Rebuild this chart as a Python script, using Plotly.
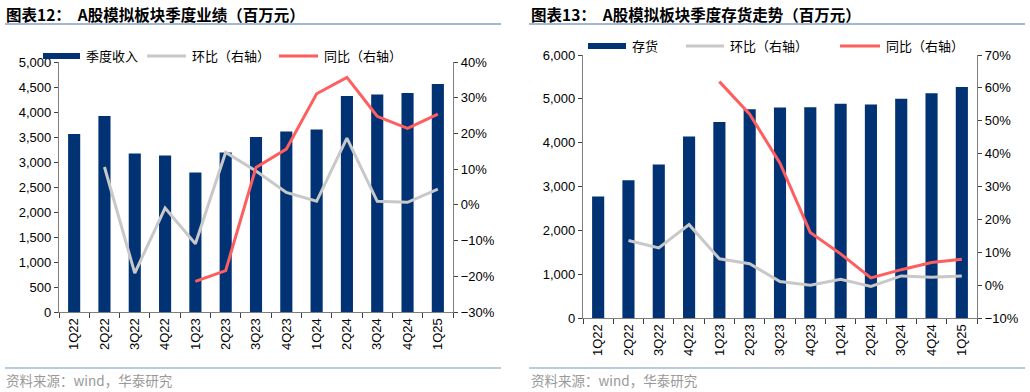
import plotly.graph_objects as go
from plotly.subplots import make_subplots

quarters = ["1Q22", "2Q22", "3Q22", "4Q22", "1Q23", "2Q23", "3Q23", "4Q23",
            "1Q24", "2Q24", "3Q24", "4Q24", "1Q25"]

# Chart 12: quarterly revenue (million yuan)
revenue = [3560, 3920, 3170, 3130, 2790, 3190, 3500, 3610, 3650, 4320, 4350, 4380, 4560]
rev_qoq = [None, 10.6, -19.1, -0.9, -10.9, 14.7, 9.5, 3.5, 1.0, 18.7, 1.0, 0.7, 4.4]
rev_yoy = [None, None, None, None, -21.4, -18.4, 10.5, 15.6, 31.1, 35.7, 24.8, 21.4, 25.4]

# Chart 13: quarterly inventory (million yuan)
inventory = [2770, 3140, 3500, 4140, 4470, 4760, 4800, 4810, 4890, 4870, 5000, 5130, 5270]
inv_qoq = [None, 13.6, 11.3, 18.4, 8.0, 6.5, 1.1, 0.0, 1.8, -0.4, 2.8, 2.4, 2.8]
inv_yoy = [None, None, None, None, 61.9, 52.0, 37.1, 16.0, 9.5, 2.2, 4.7, 6.9, 7.9]

title_left = "图表12：  A股模拟板块季度业绩（百万元）"
title_right = "图表13：  A股模拟板块季度存货走势（百万元）"
source_text = "资料来源：wind，华泰研究"

NAVY = "#003274"
GRAY = "#C8C8C8"
RED = "#FF5E5E"
AXIS = "#7F7F7F"
CJK = "Noto Sans CJK SC"
NUM = "Liberation Sans, Arial"

W, H = 1030, 392

fig = make_subplots(rows=1, cols=2, specs=[[{"secondary_y": True}, {"secondary_y": True}]])

fig.add_trace(go.Bar(x=quarters, y=revenue, marker_color=NAVY, marker_line_width=0,
                     showlegend=False), row=1, col=1, secondary_y=False)
fig.add_trace(go.Scatter(x=quarters, y=rev_qoq, mode="lines", line=dict(color=GRAY, width=3),
                         showlegend=False), row=1, col=1, secondary_y=True)
fig.add_trace(go.Scatter(x=quarters, y=rev_yoy, mode="lines", line=dict(color=RED, width=3),
                         showlegend=False), row=1, col=1, secondary_y=True)

fig.add_trace(go.Bar(x=quarters, y=inventory, marker_color=NAVY, marker_line_width=0,
                     showlegend=False), row=1, col=2, secondary_y=False)
fig.add_trace(go.Scatter(x=quarters, y=inv_qoq, mode="lines", line=dict(color=GRAY, width=3),
                         showlegend=False), row=1, col=2, secondary_y=True)
fig.add_trace(go.Scatter(x=quarters, y=inv_yoy, mode="lines", line=dict(color=RED, width=3),
                         showlegend=False), row=1, col=2, secondary_y=True)

def px_x(p):
    return p / W

def px_y(p):
    return 1 - p / H

xdom1 = [px_x(59), px_x(453)]
xdom2 = [px_x(583), px_x(977)]
ydom1 = [px_y(312), px_y(62)]
ydom2 = [px_y(318), px_y(55)]

tickfont = dict(family=NUM, size=13, color="#000000")
xfont = dict(family=NUM, size=13, color="#000000")

common_x = dict(showgrid=False, showline=True, linecolor=AXIS, linewidth=1.2,
                ticks="outside", tickson="boundaries", ticklen=5, tickcolor="#404040",
                tickangle=-90, tickfont=xfont, zeroline=False, automargin=False)
common_y = dict(showgrid=False, showline=True, linecolor=AXIS, linewidth=1.2,
                ticks="outside", ticklen=4, tickcolor="#404040", tickfont=tickfont,
                zeroline=False, automargin=False)

fig.update_layout(
    xaxis=dict(domain=xdom1, **common_x),
    yaxis=dict(domain=ydom1, range=[0, 5000], dtick=500, tickformat=",", **common_y),
    yaxis2=dict(range=[-30, 40], dtick=10, ticksuffix="%", side="right", **common_y),
    xaxis2=dict(domain=xdom2, **common_x),
    yaxis3=dict(domain=ydom2, range=[0, 6000], dtick=1000, tickformat=",", **common_y),
    yaxis4=dict(range=[-10, 70], dtick=10, ticksuffix="%", side="right", **common_y),
)
fig.update_layout(yaxis2=dict(domain=ydom1, anchor="x", overlaying="y"),
                  yaxis4=dict(domain=ydom2, anchor="x2", overlaying="y3"))

fig.update_layout(width=W, height=H, margin=dict(l=0, r=0, t=0, b=0),
                  plot_bgcolor="white", paper_bgcolor="white",
                  bargap=0.6, showlegend=False)

shapes = []
annotations = []

def hline(x0, x1, y, color, width):
    shapes.append(dict(type="line", xref="paper", yref="paper",
                       x0=px_x(x0), x1=px_x(x1), y0=px_y(y), y1=px_y(y),
                       line=dict(color=color, width=width)))

def text(x, y, s, size, color="#000000", bold=False, family=CJK):
    annotations.append(dict(xref="paper", yref="paper", x=px_x(x), y=px_y(y),
                            xanchor="left", yanchor="middle", showarrow=False,
                            text=("<b>%s</b>" % s) if bold else s,
                            font=dict(family=family, size=size, color=color)))

# titles and rules
text(4, 14, title_left, 15.5, bold=True)
text(529, 14, title_right, 15.5, bold=True)
hline(5, 501, 24, "#A3B8D4", 2)
hline(529, 1025, 24, "#A3B8D4", 2)
hline(5, 501, 368, "#A3B8D4", 1.5)
hline(529, 1025, 368, "#A3B8D4", 1.5)
text(4, 380, source_text, 13.5, color="#999999")
text(529, 380, source_text, 13.5, color="#999999")

# legends
def legend_item(x0, x1, y, kind, color, label):
    if kind == "bar":
        shapes.append(dict(type="rect", xref="paper", yref="paper",
                           x0=px_x(x0), x1=px_x(x1), y0=px_y(y + 3), y1=px_y(y - 3),
                           fillcolor=color, line=dict(width=0)))
    else:
        hline(x0, x1, y, color, 3)
    text(x1 + 4, y, label, 13)

legend_item(43, 80, 56, "bar", NAVY, "季度收入")
legend_item(147, 186, 56, "line", GRAY, "环比（右轴）")
legend_item(279, 318, 56, "line", RED, "同比（右轴）")

legend_item(588, 626, 46, "bar", NAVY, "存货")
legend_item(686, 724, 46, "line", GRAY, "环比（右轴）")
legend_item(840, 880, 46, "line", RED, "同比（右轴）")

fig.update_layout(shapes=shapes, annotations=annotations)

fig.write_html("out.html", config={"displayModeBar": False},
               post_script="document.body.style.margin='0';document.body.style.overflow='hidden';")
